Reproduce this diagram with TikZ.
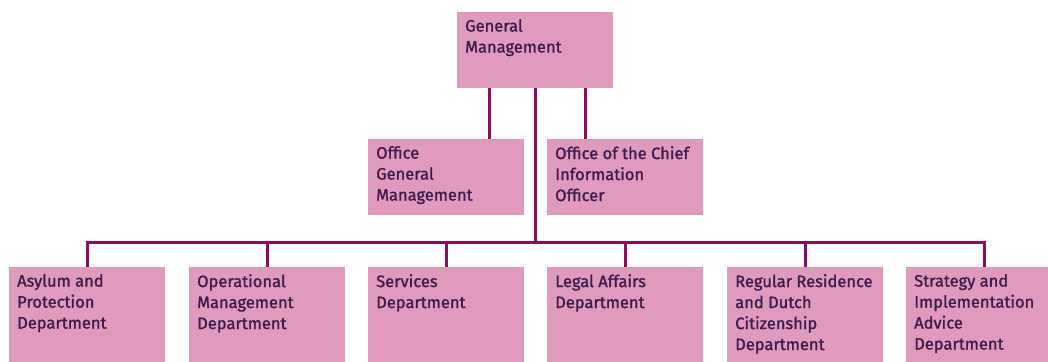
\documentclass[tikz,border=0pt]{standalone}
\usepackage{fontspec}
\setmainfont{Fira Sans}[RawFeature={embolden=1.3}]
\usetikzlibrary{calc}
\definecolor{boxfill}{HTML}{DF9ABD}
\definecolor{linec}{HTML}{8B0C5C}
\definecolor{txt}{HTML}{3E1C4C}
\tikzset{
  box/.style={fill=boxfill, draw=none, anchor=north west, inner sep=0pt, minimum width=156pt},
  lbl/.style={anchor=north west, inner sep=0pt, text=txt, align=left, font=\fontsize{16.5}{21}\selectfont},
  conn/.style={draw=linec, line width=3pt}
}
\begin{document}
\begin{tikzpicture}[x=1pt,y=-1pt]
\useasboundingbox (0,0) rectangle (1048,361);
\clip (0,0) rectangle (1048,361);
% boxes
\node[box, minimum height=76pt] (GM) at (457,12) {};
\node[box, minimum height=76pt] (OGM) at (368,139) {};
\node[box, minimum height=76pt] (CIO) at (547,139) {};
\node[box, minimum height=100pt] (B1) at (9,267) {};
\node[box, minimum height=100pt] (B2) at (189,267) {};
\node[box, minimum height=100pt] (B3) at (368,267) {};
\node[box, minimum height=100pt] (B4) at (547,267) {};
\node[box, minimum height=100pt] (B5) at (727,267) {};
\node[box, minimum height=100pt] (B6) at (906,267) {};
% labels
\node[lbl] (tGM) at ($(GM.north west)+(8,7)$) {General\\Management};
\node[lbl] (tOGM) at ($(OGM.north west)+(8,7)$) {Office\\General\\Management};
\node[lbl] (tCIO) at ($(CIO.north west)+(8,7)$) {Office of the Chief\\Information\\Officer};
\node[lbl] (tB1) at ($(B1.north west)+(8,7)$) {Asylum and\\Protection\\Department};
\node[lbl] (tB2) at ($(B2.north west)+(8,7)$) {Operational\\Management\\Department};
\node[lbl] (tB3) at ($(B3.north west)+(8,7)$) {Services\\Department};
\node[lbl] (tB4) at ($(B4.north west)+(8,7)$) {Legal Affairs\\Department};
\node[lbl] (tB5) at ($(B5.north west)+(8,7)$) {Regular Residence\\and Dutch\\Citizenship\\Department};
\node[lbl] (tB6) at ($(B6.north west)+(8,7)$) {Strategy and\\Implementation\\Advice\\Department};
% connectors
\coordinate (pO) at ($(GM.south west)!0.205!(GM.south east)$);
\coordinate (pC) at ($(GM.south west)!0.82!(GM.south east)$);
\coordinate (bus) at ($(GM.south)+(0,154)$);
\draw[conn] (pO) -- (pO |- OGM.north);
\draw[conn] (pC) -- (pC |- CIO.north);
\draw[conn] (GM.south) -- (bus);
\draw[conn] (B1.north) -- (B1.north |- bus) -- (B6.north |- bus) -- (B6.north);
\foreach \b in {B2,B3,B4,B5}
  \draw[conn] (\b.north |- bus) -- (\b.north);
\end{tikzpicture}
\end{document}
